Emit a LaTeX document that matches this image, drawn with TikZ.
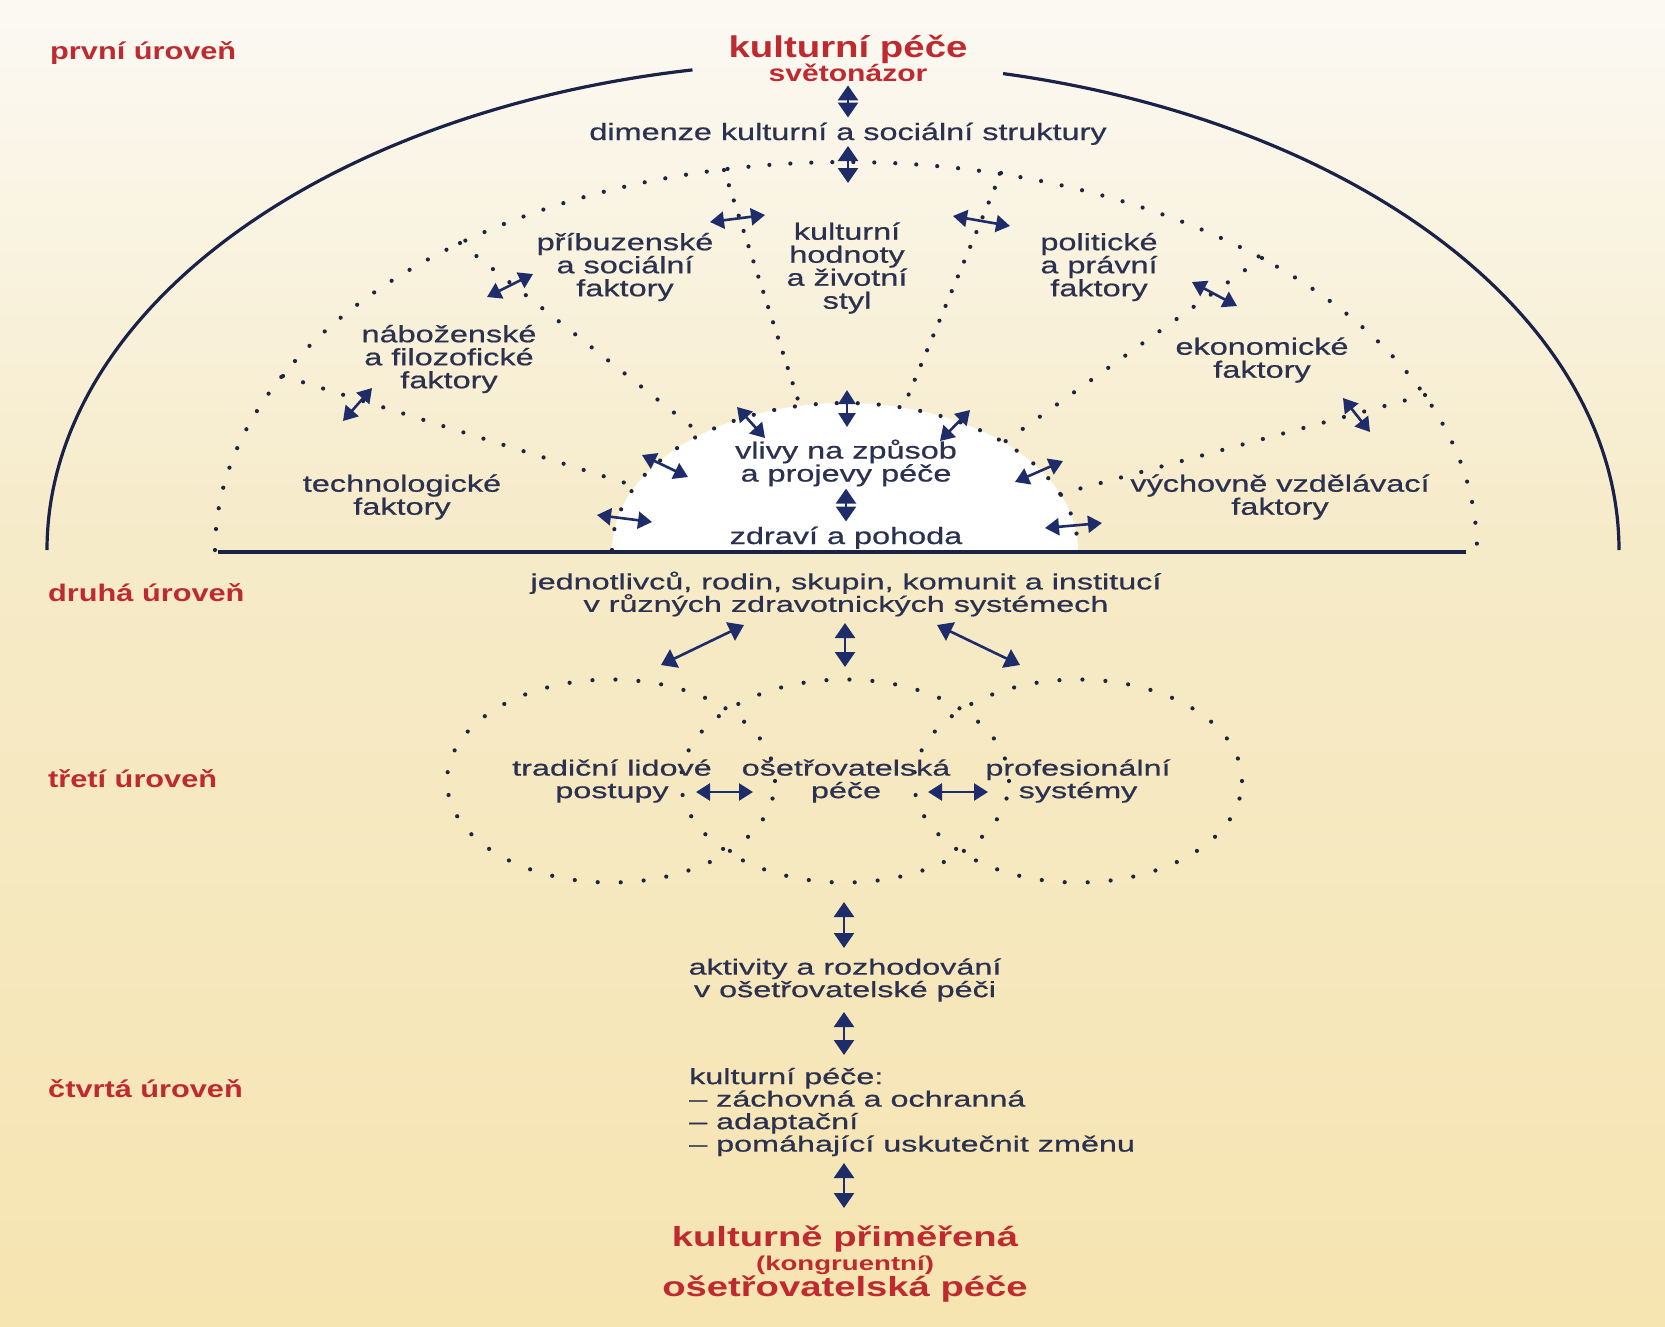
\documentclass[tikz,border=0pt]{standalone}
\usepackage{fontspec}
\setmainfont{Liberation Sans}
\newfontfamily\topfont[FakeStretch=1.38,FakeBold=0.7]{Liberation Sans}
\newfontfamily\lowfont[FakeStretch=1.47,FakeBold=0.7]{Liberation Sans}
\newfontfamily\redtopfont[FakeStretch=1.28]{Liberation Sans}
\newfontfamily\redlowfont[FakeStretch=1.38]{Liberation Sans}
\usetikzlibrary{arrows.meta}
\definecolor{txt}{HTML}{2C3150}
\definecolor{arrc}{HTML}{1E2C6A}
\definecolor{linec}{HTML}{1B2247}
\definecolor{dotc}{HTML}{1F2540}
\definecolor{myred}{HTML}{BF2A30}
\definecolor{bgtop}{HTML}{FCFAF6}
\definecolor{bgmid}{HTML}{F6EBC9}
\definecolor{bgbot}{HTML}{F6DD98}
\pgfdeclareverticalshading{bgshade}{100bp}{color(0bp)=(bgbot); color(30bp)=(bgmid!60!bgbot); color(55bp)=(bgmid); color(76bp)=(bgtop); color(100bp)=(bgtop)}
\begin{document}
\begin{tikzpicture}[x=1pt,y=-1pt,
  lab/.style={font=\redtopfont\bfseries\fontsize{24}{26}\selectfont, text=myred, inner sep=0pt, anchor=base west},
  ttl/.style={font=\redtopfont\bfseries\fontsize{30}{32}\selectfont, text=myred, inner sep=0pt, anchor=base},
  subttl/.style={font=\redtopfont\bfseries\fontsize{23.5}{26}\selectfont, text=myred, inner sep=0pt, anchor=base},
  fac/.style={font=\topfont\fontsize{23.5}{23}\selectfont, text=txt, align=center, inner sep=0pt},
  low/.style={font=\lowfont\fontsize{22}{22.5}\selectfont, text=txt, align=center, inner sep=0pt},
  res/.style={font=\redlowfont\bfseries\fontsize{27.7}{30}\selectfont, text=myred, inner sep=0pt, anchor=base},
  ressm/.style={font=\redlowfont\bfseries\fontsize{20}{22}\selectfont, text=myred, inner sep=0pt, anchor=base},
  arr/.style={draw=arrc, line width=2.6pt, {Triangle[length=15pt,width=20pt]}-{Triangle[length=15pt,width=20pt]}},
  sarr/.style={draw=arrc, line width=2.6pt, {Triangle[length=14pt,width=17pt]}-{Triangle[length=14pt,width=17pt]}},
  dotl/.style={draw=dotc, line width=4.2pt, line cap=round, dash pattern=on 0pt off 21pt},
  arcl/.style={draw=linec, line width=3.2pt}]
\useasboundingbox (0,0) rectangle (1665,1326);
\shade[shading=bgshade] (0,0) rectangle (1665,1326);

% white glow inside the inner half ellipse
\fill[white] plot[domain=0:180,samples=90] ({845+233*cos(\x)},{550-147*sin(\x)}) -- cycle;

% solid outer half ellipse and base line
\draw[arcl] plot[domain=180:100.3,samples=80,smooth] ({833+786*cos(\x)},{550-488*sin(\x)});
\draw[arcl] plot[domain=77.5:0,samples=80,smooth] ({833+786*cos(\x)},{550-488*sin(\x)});
\coordinate (bl) at (218,552);
\coordinate (br) at (1466,552);
\draw[draw=linec, line width=3.8pt] (bl) -- (br);

% dotted half ellipses
\draw[dotl] plot[domain=180:0,samples=140] ({846+631*cos(\x)},{550-388*sin(\x)});
\draw[dotl] plot[domain=180:0,samples=90] ({845+233*cos(\x)},{550-147*sin(\x)});

% dotted dividing lines
\coordinate (Ao) at (283,376); \coordinate (Ai) at (635,486);
\coordinate (Bo) at (460,243); \coordinate (Bi) at (701,434);
\coordinate (Co) at (724,170); \coordinate (Ci) at (800,406);
\coordinate (Do) at (1001,173); \coordinate (Di) at (903,408);
\coordinate (Eo) at (1262,258); \coordinate (Ei) at (1003,443);
\coordinate (Fo) at (1425,395); \coordinate (Fi) at (1060,494);
\draw[dotl] (Ao) -- (Ai);
\draw[dotl] (Bo) -- (Bi);
\draw[dotl, dash pattern=on 0pt off 16pt] (Co) -- (Ci);
\draw[dotl, dash pattern=on 0pt off 16pt] (Do) -- (Di);
\draw[dotl] (Eo) -- (Ei);
\draw[dotl] (Fo) -- (Fi);

% tertiary dotted ovals
\draw[dotl, dash pattern=on 0pt off 23pt] (611,781) ellipse [x radius=164pt, y radius=101.5pt];
\draw[dotl, dash pattern=on 0pt off 23pt] (845,781) ellipse [x radius=164pt, y radius=101.5pt];
\draw[dotl, dash pattern=on 0pt off 23pt] (1078,781) ellipse [x radius=164pt, y radius=101.5pt];

% level labels
\node[lab] (l1) at (50,59) {první úroveň};
\node[lab] (l2) at (48,601) {druhá úroveň};
\node[lab] (l3) at (48,787) {třetí úroveň};
\node[lab] (l4) at (48,1097) {čtvrtá úroveň};

% first level
\node[ttl] (kp) at (848,57) {kulturní péče};
\node[subttl] (svet) at (848,81) {světonázor};
\node[fac, anchor=base] (dim) at (848,140) {dimenze kulturní a sociální struktury};

\node[fac] (pribuz) at (625,267) {příbuzenské\\a sociální\\faktory};
\node[fac] (hodnoty) at (847,268) {kulturní\\hodnoty\\a životní\\styl};
\node[fac] (polit) at (1099,267) {politické\\a právní\\faktory};
\node[fac] (nabo) at (449,359) {náboženské\\a filozofické\\faktory};
\node[fac] (ekon) at (1262,360) {ekonomické\\faktory};
\node[fac] (tech) at (402,497) {technologické\\faktory};
\node[fac] (vych) at (1280,497) {výchovně vzdělávací\\faktory};
\node[fac] (vliv) at (846,463) {vlivy na způsob\\a projevy péče};
\node[fac, anchor=base] (zdravi) at (846,544) {zdraví a pohoda};

% second level
\node[low] (jedn) at (846,594) {jednotlivců, rodin, skupin, komunit a institucí\\v různých zdravotnických systémech};

% third level
\node[low] (trad) at (612,781) {tradiční lidové\\postupy};
\node[low] (oset) at (846,781) {ošetřovatelská\\péče};
\node[low] (prof) at (1078,781) {profesionální\\systémy};

% fourth level
\node[low] (aktiv) at (845,980) {aktivity a rozhodování\\v ošetřovatelské péči};
\node[low, align=left, anchor=west] (kplist) at (689,1112) {kulturní péče:\\– záchovná a ochranná\\– adaptační\\– pomáhající uskutečnit změnu};
\node[res] (res1) at (845,1246) {kulturně přiměřená};
\node[ressm] (res2) at (845,1270) {(kongruentní)};
\node[res] (res3) at (845,1296) {ošetřovatelská péče};

% arrows, first level
\draw[arr, shorten <=4pt, shorten >=5pt] (svet) -- (dim);
\coordinate (a2s) at (848,146); \coordinate (a2e) at (848,183);
\draw[arr] (a2s) -- (a2e);
\coordinate (a3s) at (710,222); \coordinate (a3e) at (765,215);
\draw[sarr] (a3s) -- (a3e);
\coordinate (a4s) at (953,216); \coordinate (a4e) at (1010,226);
\draw[sarr] (a4s) -- (a4e);
\coordinate (a5s) at (487,297); \coordinate (a5e) at (533,274);
\draw[sarr] (a5s) -- (a5e);
\coordinate (a6s) at (343,421); \coordinate (a6e) at (372,388);
\draw[sarr] (a6s) -- (a6e);
\coordinate (a7s) at (1192,282); \coordinate (a7e) at (1237,306);
\draw[sarr] (a7s) -- (a7e);
\coordinate (a8s) at (1343,398); \coordinate (a8e) at (1370,432);
\draw[sarr] (a8s) -- (a8e);
\coordinate (a9s) at (847,390); \coordinate (a9e) at (847,427);
\draw[sarr] (a9s) -- (a9e);
\coordinate (a10s) at (737,407); \coordinate (a10e) at (765,438);
\draw[sarr] (a10s) -- (a10e);
\coordinate (a11s) at (970,410); \coordinate (a11e) at (940,441);
\draw[sarr] (a11s) -- (a11e);
\coordinate (a12s) at (642,455); \coordinate (a12e) at (688,477);
\draw[sarr] (a12s) -- (a12e);
\coordinate (a13s) at (1015,482); \coordinate (a13e) at (1063,461);
\draw[sarr] (a13s) -- (a13e);
\coordinate (a14s) at (597,515); \coordinate (a14e) at (652,522);
\draw[sarr] (a14s) -- (a14e);
\coordinate (a15s) at (1045,528); \coordinate (a15e) at (1102,523);
\draw[sarr] (a15s) -- (a15e);
\draw[arr, shorten <=2pt, shorten >=5pt] (vliv) -- (zdravi);

% arrows, lower levels
\coordinate (b1s) at (744,625); \coordinate (b1e) at (661,665);
\draw[arr] (b1s) -- (b1e);
\coordinate (b2s) at (845,623); \coordinate (b2e) at (845,667);
\draw[arr] (b2s) -- (b2e);
\coordinate (b3s) at (937,625); \coordinate (b3e) at (1020,665);
\draw[arr] (b3s) -- (b3e);
\coordinate (b4s) at (696,792); \coordinate (b4e) at (753,792);
\draw[sarr] (b4s) -- (b4e);
\coordinate (b5s) at (928,792); \coordinate (b5e) at (988,792);
\draw[sarr] (b5s) -- (b5e);
\coordinate (b6s) at (844,902); \coordinate (b6e) at (844,948);
\draw[arr] (b6s) -- (b6e);
\coordinate (b7s) at (844,1012); \coordinate (b7e) at (844,1055);
\draw[arr] (b7s) -- (b7e);
\coordinate (b8s) at (844,1163); \coordinate (b8e) at (844,1208);
\draw[arr] (b8s) -- (b8e);
\end{tikzpicture}
\end{document}
